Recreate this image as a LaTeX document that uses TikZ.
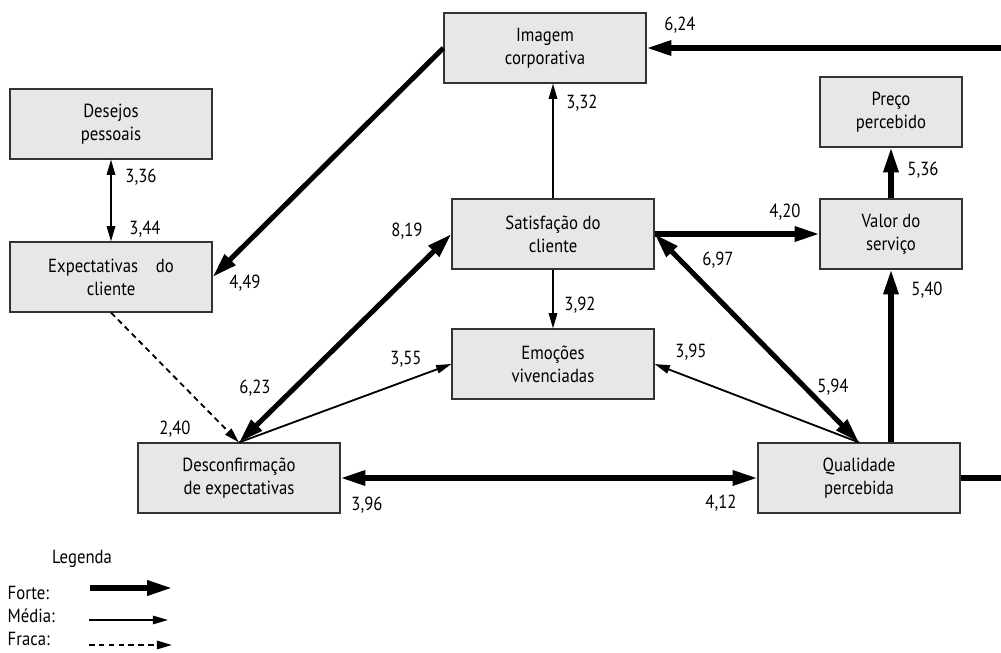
\documentclass[tikz,border=0pt]{standalone}
\usepackage{fontspec}
\setmainfont{PT Sans}[FakeStretch=0.88]
\usetikzlibrary{arrows.meta, positioning, calc}
\definecolor{boxgray}{RGB}{230, 231, 232}

\begin{document}
\begin{tikzpicture}[
  x=0.025cm, y=-0.025cm,
  cbox/.style={draw=black!80, fill=boxgray, line width=0.8pt, minimum width=5.05cm, minimum height=1.75cm, align=center, font=\fontsize{13.5}{16.5}\selectfont},
  sbox/.style={cbox, minimum width=3.55cm},
  peso/.style={font=\fontsize{13.5}{15}\selectfont, inner sep=1pt},
  forte/.style={line width=3.6pt, >={Triangle[length=0.62cm, width=0.36cm]}},
  media/.style={line width=1.3pt, >={Triangle[length=0.38cm, width=0.21cm]}},
  fraca/.style={media, dash pattern=on 4pt off 3pt}
]
  \useasboundingbox (0,0) rectangle (1001,652);

  % boxes
  \node[cbox] (imagem) at (545,48) {Imagem\\corporativa};
  \node[cbox] (desejos) at (111,124) {Desejos\\pessoais};
  \node[cbox] (expect) at (111,277) {Expectativas\hspace{0.7em} do\\cliente};
  \node[sbox] (preco) at (891,112) {Preço\\percebido};
  \node[sbox] (valor) at (891,234) {Valor do\\serviço};
  \node[cbox] (satis) at (553,234) {Satisfação do\\cliente};
  \node[cbox] (emocoes) at (553,364) {Emoções\\vivenciadas};
  \node[cbox] (desc) at (239,478) {Desconfirmação\\de expectativas};
  \node[cbox] (qual) at (859,478) {Qualidade\\percebida};

  % connectors
  \draw[forte, ->] (qual.east) -- ++(70,0) |- (imagem.east);
  \draw[forte, ->] (imagem.west) -- (expect.east);
  \draw[media, ->] (satis.north) -- (satis.north |- imagem.south);
  \draw[media, <->] (desejos.south) -- (expect.north);
  \draw[forte, ->] (satis.east) -- (valor.west);
  \draw[forte, ->] (valor.north) -- (preco.south);
  \draw[forte, ->] (valor.south |- qual.north) -- (valor.south);
  \draw[forte, <->] (satis.east) -- (qual.north);
  \draw[media, ->] (satis.south) -- (emocoes.north);
  \draw[forte, <->] (desc.north) -- (satis.west);
  \draw[media, ->] (desc.north) -- (emocoes.west);
  \draw[media, ->] (qual.north) -- (emocoes.east);
  \draw[fraca, ->] (expect.south) -- (desc.north);
  \draw[forte, <->] (desc.east) -- (qual.west);

  % weights
  \node[peso] (p624) at (680,25) {6,24};
  \node[peso] (p332) at (582,103) {3,32};
  \node[peso] (p336) at (141,177) {3,36};
  \node[peso] (p344) at (145,229) {3,44};
  \node[peso] (p449) at (245,283) {4,49};
  \node[peso] (p819) at (407,231) {8,19};
  \node[peso] (p392) at (580,305) {3,92};
  \node[peso] (p355) at (406,359) {3,55};
  \node[peso] (p420) at (785,212) {4,20};
  \node[peso] (p697) at (718,260) {6,97};
  \node[peso] (p536) at (923,170) {5,36};
  \node[peso] (p540) at (927,290) {5,40};
  \node[peso] (p395) at (691,352) {3,95};
  \node[peso] (p594) at (833,387) {5,94};
  \node[peso] (p412) at (721,503) {4,12};
  \node[peso] (p396) at (367,505) {3,96};
  \node[peso] (p240) at (175,429) {2,40};
  \node[peso] (p623) at (255,388) {6,23};

  % legend
  \node[peso] (legenda) at (82,559) {Legenda};
  \node[peso, anchor=west] (lforte) at (6,593) {Forte:};
  \node[peso, anchor=west] (lmedia) at (6,616) {Média:};
  \node[peso, anchor=west] (lfraca) at (6,639) {Fraca:};
  \coordinate (fa) at (90,588);  \coordinate (fb) at (172,588);
  \coordinate (ma) at (89,620);  \coordinate (mb) at (168,620);
  \coordinate (ka) at (89,645);  \coordinate (kb) at (172,645);
  \draw[forte, ->] (fa) -- (fb);
  \draw[media, ->] (ma) -- (mb);
  \draw[fraca, ->] (ka) -- (kb);
\end{tikzpicture}
\end{document}
